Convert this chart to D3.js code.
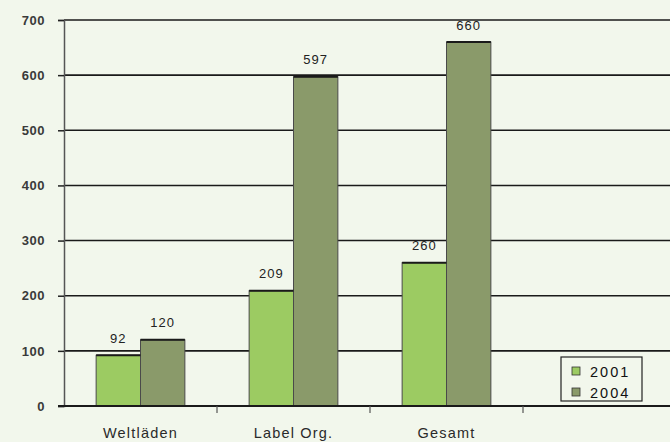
<!DOCTYPE html>
<html>
<head>
<meta charset="utf-8">
<script src="https://cdn.jsdelivr.net/npm/d3@7"></script>
<style>
  html, body { margin: 0; padding: 0; background: #f2f7ec; }
  svg { display: block; font-family: "Liberation Sans", Arial, sans-serif; }
</style>
</head>
<body>
<div id="chart"></div>
<script>
// Werte
const categories = ['Weltläden', 'Label Org.', 'Gesamt'];
const seriesNames = ['2001', '2004'];
const values2001 = [92, 209, 260];
const values2004 = [120, 597, 660];
const yTicks = [0, 100, 200, 300, 400, 500, 600, 700];

const width = 670, height = 442;
const margin = { top: 20, right: 0, bottom: 36, left: 64 };
const bandW = 153;

const svg = d3.select('#chart').append('svg')
    .attr('width', width).attr('height', height);

svg.append('rect').attr('width', width).attr('height', height).attr('fill', '#f2f7ec');

const x = d3.scaleBand().domain(categories)
    .range([margin.left, margin.left + bandW * categories.length])
    .paddingInner(0).paddingOuter(0);
const xs = d3.scaleBand().domain(seriesNames).range([0, bandW * 0.58]);
const y = d3.scaleLinear().domain([0, 700]).range([height - margin.bottom, margin.top]);

// Gitterlinien
svg.append('g').selectAll('line').data(yTicks.filter(d => d > 0)).join('line')
    .attr('x1', margin.left).attr('x2', width)
    .attr('y1', d => y(d)).attr('y2', d => y(d))
    .attr('stroke', '#1a1a1a').attr('stroke-width', 1.6);

// Balken
const colors = { '2001': '#9ccb62', '2004': '#8a9a6a' };
const rows = categories.map((c, i) => ({ cat: c, vals: [values2001[i], values2004[i]] }));
const groups = svg.append('g').selectAll('g').data(rows).join('g')
    .attr('transform', d => `translate(${x(d.cat) + (bandW - bandW * 0.58) / 2},0)`);

groups.selectAll('rect').data(d => d.vals.map((v, j) => ({ key: seriesNames[j], v }))).join('rect')
    .attr('x', d => xs(d.key))
    .attr('width', xs.bandwidth())
    .attr('y', d => y(d.v))
    .attr('height', d => y(0) - y(d.v))
    .attr('fill', d => colors[d.key])
    .attr('stroke', '#4a4a4a').attr('stroke-width', 1);

groups.selectAll('line.top').data(d => d.vals.map((v, j) => ({ key: seriesNames[j], v }))).join('line')
    .attr('class', 'top')
    .attr('x1', d => xs(d.key)).attr('x2', d => xs(d.key) + xs.bandwidth())
    .attr('y1', d => y(d.v)).attr('y2', d => y(d.v))
    .attr('stroke', '#1a1a1a').attr('stroke-width', 2);

groups.selectAll('text').data(d => d.vals.map((v, j) => ({ key: seriesNames[j], v }))).join('text')
    .attr('x', d => xs(d.key) + xs.bandwidth() / 2)
    .attr('y', d => y(d.v) - 12.5)
    .attr('text-anchor', 'middle')
    .attr('font-size', 13)
    .attr('letter-spacing', 1)
    .attr('fill', '#222')
    .text(d => d.v);

// Y-Achse
const yAxis = svg.append('g').attr('transform', `translate(${margin.left},0)`)
    .call(d3.axisLeft(y).tickValues(yTicks).tickSize(6).tickPadding(13));
yAxis.select('.domain').attr('stroke', '#555').attr('stroke-width', 1.5);
yAxis.selectAll('.tick line').attr('stroke', '#222').attr('stroke-width', 1.5);
yAxis.selectAll('.tick text').attr('font-size', 13).attr('font-weight', 'bold')
    .attr('letter-spacing', 0.5)
    .attr('fill', '#3a3a3a').attr('font-family', '"Liberation Sans", Arial, sans-serif');

// X-Achse
svg.append('line').attr('x1', margin.left - 6).attr('x2', width)
    .attr('y1', y(0)).attr('y2', y(0)).attr('stroke', '#1a1a1a').attr('stroke-width', 2);
svg.append('g').selectAll('line').data(categories).join('line')
    .attr('x1', d => x(d) + bandW).attr('x2', d => x(d) + bandW)
    .attr('y1', y(0)).attr('y2', y(0) + 7)
    .attr('stroke', '#555').attr('stroke-width', 1.2);
svg.append('g').selectAll('text').data(categories).join('text')
    .attr('x', d => x(d) + bandW / 2)
    .attr('y', y(0) + 32)
    .attr('text-anchor', 'middle')
    .attr('font-size', 14.5)
    .attr('letter-spacing', 1.2)
    .attr('fill', '#2a2a2a')
    .text(d => d);

// Legende
const lg = svg.append('g').attr('transform', 'translate(561,357)');
lg.append('rect').attr('width', 81).attr('height', 44)
    .attr('fill', '#f2f7ec').attr('stroke', '#222').attr('stroke-width', 1.2);
seriesNames.forEach((s, i) => {
    lg.append('rect').attr('x', 11).attr('y', 10 + i * 21).attr('width', 8).attr('height', 8)
        .attr('fill', colors[s]).attr('stroke', '#333').attr('stroke-width', 0.8);
    lg.append('text').attr('x', 29).attr('y', 20 + i * 21)
        .attr('font-size', 14.5).attr('letter-spacing', 2).attr('fill', '#111').text(s);
});
</script>
</body>
</html>
